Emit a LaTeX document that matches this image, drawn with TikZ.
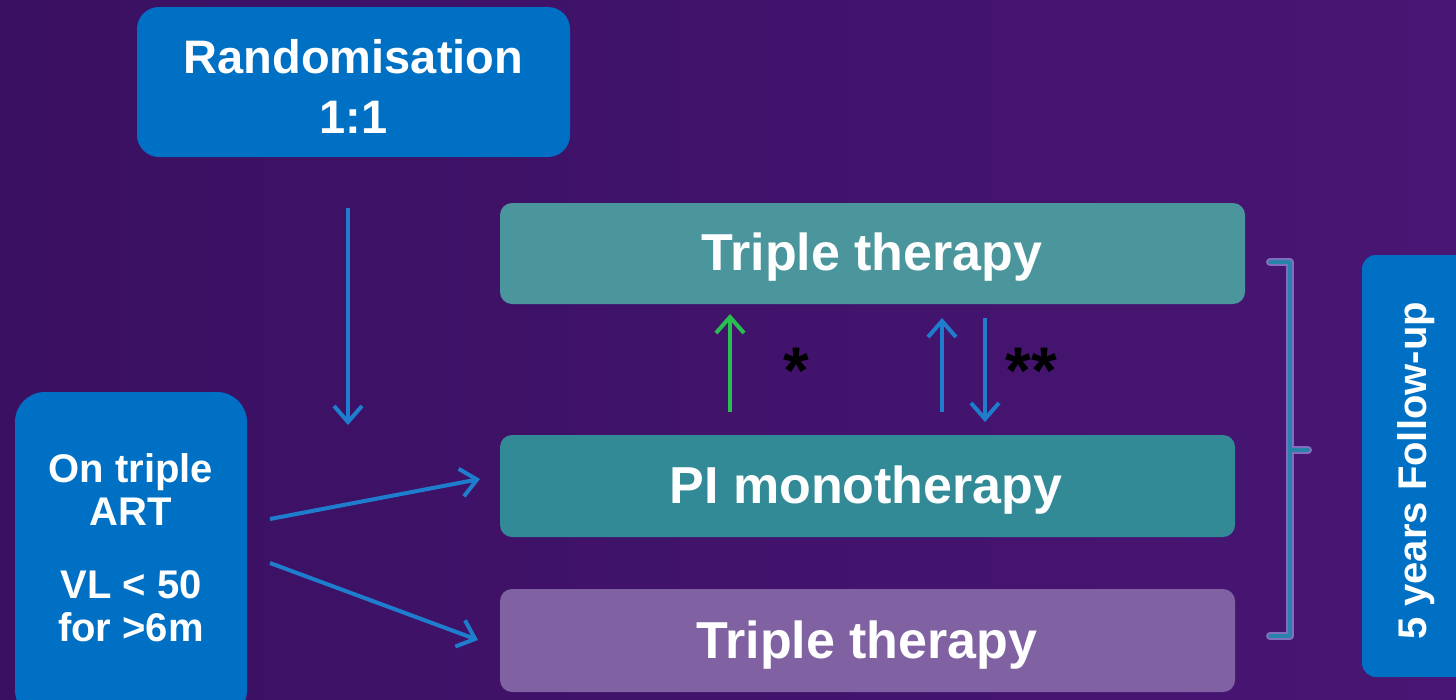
\documentclass[tikz,border=0pt]{standalone}
\usepackage{fontspec}
\setmainfont{Liberation Sans}
\usetikzlibrary{arrows.meta}
\definecolor{bgL}{RGB}{58,16,98}
\definecolor{bgR}{RGB}{72,22,116}
\definecolor{boxblue}{RGB}{0,112,196}
\definecolor{tealA}{RGB}{74,150,156}
\definecolor{tealB}{RGB}{50,138,150}
\definecolor{lilac}{RGB}{128,98,162}
\definecolor{arrblue}{RGB}{30,125,205}
\definecolor{arrgreen}{RGB}{40,190,80}
\definecolor{brack}{RGB}{40,130,170}
\definecolor{glow}{RGB}{130,110,190}
\tikzset{
  boxnode/.style={inner sep=0pt, font=\bfseries, text=white, align=center},
  flow/.style={draw=arrblue, line width=4pt, -{Straight Barb[length=16pt,width=28pt,line width=4pt]}},
  greenflow/.style={flow, draw=arrgreen},
}
\begin{document}
\begin{tikzpicture}[x=1pt,y=-1pt]
  % background
  \shade[left color=bgL, right color=bgR] (0,0) rectangle (1456,699);
  \useasboundingbox (0,0) rectangle (1456,699);

  % boxes
  \fill[boxblue, rounded corners=22pt] (137,7) rectangle (570,157);
  \node[boxnode, font=\fontsize{47}{60}\bfseries] (rand) at (353.5,86) {Randomisation\\1:1};

  \fill[boxblue, rounded corners=30pt] (15,392) rectangle (247,720);
  \node[boxnode, font=\fontsize{40}{43}\bfseries] (art) at (131,548) {On triple\\ART\\[30pt]VL < 50\\for >6m};

  \fill[tealA, rounded corners=12pt] (500,203) rectangle (1245,304);
  \node[boxnode, font=\fontsize{52}{56}\bfseries] (tt1) at (872,257) {Triple therapy};

  \fill[tealB, rounded corners=12pt] (500,435) rectangle (1235,537);
  \node[boxnode, font=\fontsize{52}{56}\bfseries] (pi) at (866,490) {PI monotherapy};

  \fill[lilac, rounded corners=12pt] (500,589) rectangle (1235,692);
  \node[boxnode, font=\fontsize{52}{56}\bfseries] (tt2) at (867,645) {Triple therapy};

  \fill[boxblue, rounded corners=14pt] (1362,255) rectangle (1480,677);
  \node[boxnode, rotate=90, font=\fontsize{40}{44}\bfseries] (fu) at (1416,471) {5 years Follow-up};

  % connectors
  \coordinate (d0) at (348,208);
  \coordinate (d1) at (348,425);
  \draw[flow] (d0) -- (d1);

  \coordinate (a0) at (270,519);
  \coordinate (a1) at (480,479);
  \draw[flow] (a0) -- (a1);
  \coordinate (b0) at (270,563);
  \coordinate (b1) at (478,640);
  \draw[flow] (b0) -- (b1);

  \coordinate (g0) at (730,412);
  \coordinate (g1) at (730,314);
  \draw[greenflow] (g0) -- (g1);
  \coordinate (u0) at (942,412);
  \coordinate (u1) at (942,318);
  \draw[flow] (u0) -- (u1);
  \coordinate (v0) at (985,318);
  \coordinate (v1) at (985,422);
  \draw[flow] (v0) -- (v1);

  \node[font=\fontsize{66}{66}\bfseries, text=black] (s1) at (796,371) {*};
  \node[font=\fontsize{66}{66}\bfseries, text=black] (s2) at (1031,371) {**};

  % bracket grouping the three arms
  \foreach \c/\w in {glow/8pt, brack/3.5pt}
    \draw[\c, line width=\w, line join=round, line cap=round]
      (1270,262) -- (1290,262) -- (1290,450) -- (1308,450)
      (1290,450) -- (1290,636) -- (1270,636);
\end{tikzpicture}
\end{document}
